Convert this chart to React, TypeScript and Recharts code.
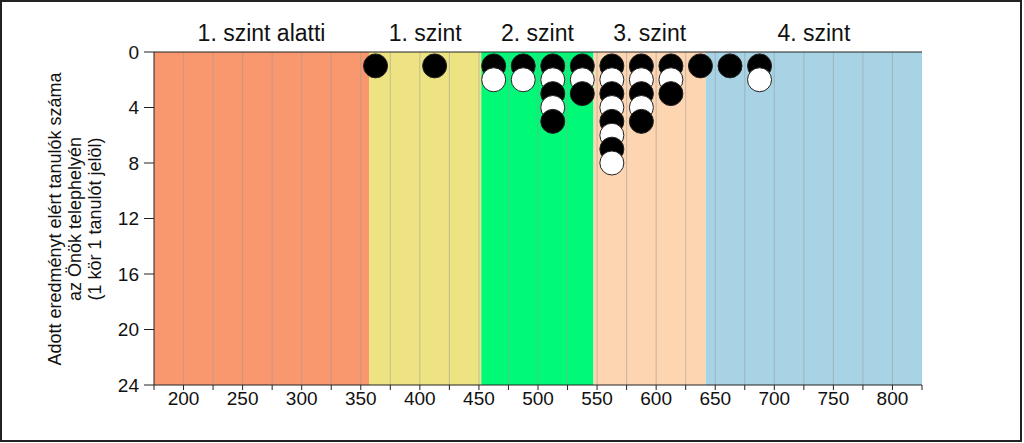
import React from 'react';
import { ScatterChart, Scatter, XAxis, YAxis, ReferenceArea, ReferenceLine } from 'recharts';

const FONT = '"Liberation Sans", Arial, sans-serif';

// Performance levels (score bands)
const levelNames = ['1. szint alatti', '1. szint', '2. szint', '3. szint', '4. szint'];
const levelStarts = [175, 357, 452, 547, 642];
const levelEnds = [357, 452, 547, 642, 825];
const levelColors = ['#F9976F', '#EDE383', '#00FA77', '#FDD5B0', '#A7D3E4'];

// Score bins (centres) and number of students in each
const scoreBins = [362.5, 412.5, 462.5, 487.5, 512.5, 537.5, 562.5, 587.5, 612.5, 637.5, 662.5, 687.5];
const studentCounts = [1, 1, 2, 2, 5, 3, 8, 5, 3, 1, 1, 2];

// Axes
const xDomain = [175, 825];
const xTicks = [175, 200, 225, 250, 275, 300, 325, 350, 375, 400, 425, 450, 475, 500, 525, 550, 575, 600, 625, 650, 675, 700, 725, 750, 775, 800, 825];
const xTickLabels = [200, 250, 300, 350, 400, 450, 500, 550, 600, 650, 700, 750, 800];
const gridValues = [200, 225, 250, 275, 300, 325, 350, 375, 400, 425, 450, 475, 500, 525, 550, 575, 600, 625, 650, 675, 700, 725, 750, 775, 800];
const yTicks = [0, 4, 8, 12, 16, 20, 24];
const yLabelLines = ['Adott eredményt elért tanulók száma', 'az Önök telephelyén', '(1 kör 1 tanulót jelöl)'];

const points: { x: number; y: number; fill: string }[] = [];
scoreBins.forEach((x, i) => {
  for (let k = 1; k <= studentCounts[i]; k++) {
    points.push({ x, y: k, fill: k % 2 === 1 ? '#000000' : '#ffffff' });
  }
});

const renderDot = (props: any) => {
  const { cx, cy, payload } = props;
  return <circle cx={cx} cy={cy} r={12} fill={payload.fill} stroke="#222" strokeWidth={1} />;
};

const YLabel = () => (
  <g fontFamily={FONT} fontSize={18} fill="#111">
    {yLabelLines.map((t, i) => {
      const x = 61 + 20 * i;
      const y = 219;
      return (
        <text key={i} x={x} y={y} transform={`rotate(-90, ${x}, ${y})`} textAnchor="middle">
          {t}
        </text>
      );
    })}
  </g>
);

export default function App() {
  return (
    <div style={{ position: 'absolute', left: 0, top: 0, width: 1024, height: 443, background: '#fff', fontFamily: FONT }}>
      <ScatterChart width={1024} height={443} margin={{ top: 32, right: 102, bottom: 28, left: 54 }}>
        {levelNames.map((n, i) => (
          <ReferenceArea
            key={n}
            x1={levelStarts[i]}
            x2={levelEnds[i]}
            y1={0}
            y2={24}
            fill={levelColors[i]}
            fillOpacity={1}
            stroke="none"
            label={{ value: n, position: 'top', offset: 11, fontSize: 23, fill: '#111', fontFamily: FONT }}
          />
        ))}
        {gridValues.map((v) => (
          <ReferenceLine key={v} x={v} stroke="#9a9a9a" strokeOpacity={0.55} strokeWidth={1} />
        ))}
        <XAxis
          type="number"
          dataKey="x"
          domain={xDomain}
          ticks={xTicks}
          interval={0}
          allowDataOverflow
          tickFormatter={(v: number) => (xTickLabels.includes(v) ? String(v) : '')}
          tickSize={5}
          tickMargin={2}
          height={30}
          stroke="#222"
          tick={{ fill: '#111', fontSize: 19, fontFamily: FONT }}
        />
        <XAxis
          xAxisId="top"
          orientation="top"
          type="number"
          domain={xDomain}
          ticks={xTicks}
          interval={0}
          allowDataOverflow
          tickFormatter={() => ''}
          tickSize={5}
          height={20}
          stroke="#222"
        />
        <YAxis
          type="number"
          dataKey="y"
          domain={[0, 24]}
          reversed
          ticks={yTicks}
          interval={0}
          allowDataOverflow
          width={100}
          tickSize={10}
          tickMargin={5}
          stroke="#222"
          tick={{ fill: '#111', fontSize: 19, fontFamily: FONT }}
          label={{ content: YLabel }}
        />
        <Scatter data={points} dataKey="y" isAnimationActive={false} shape={renderDot} />
      </ScatterChart>
      <div
        style={{
          position: 'absolute',
          left: 0,
          top: 0,
          width: 1022,
          height: 442,
          boxSizing: 'border-box',
          border: '2px solid #222',
          pointerEvents: 'none',
        }}
      />
    </div>
  );
}
